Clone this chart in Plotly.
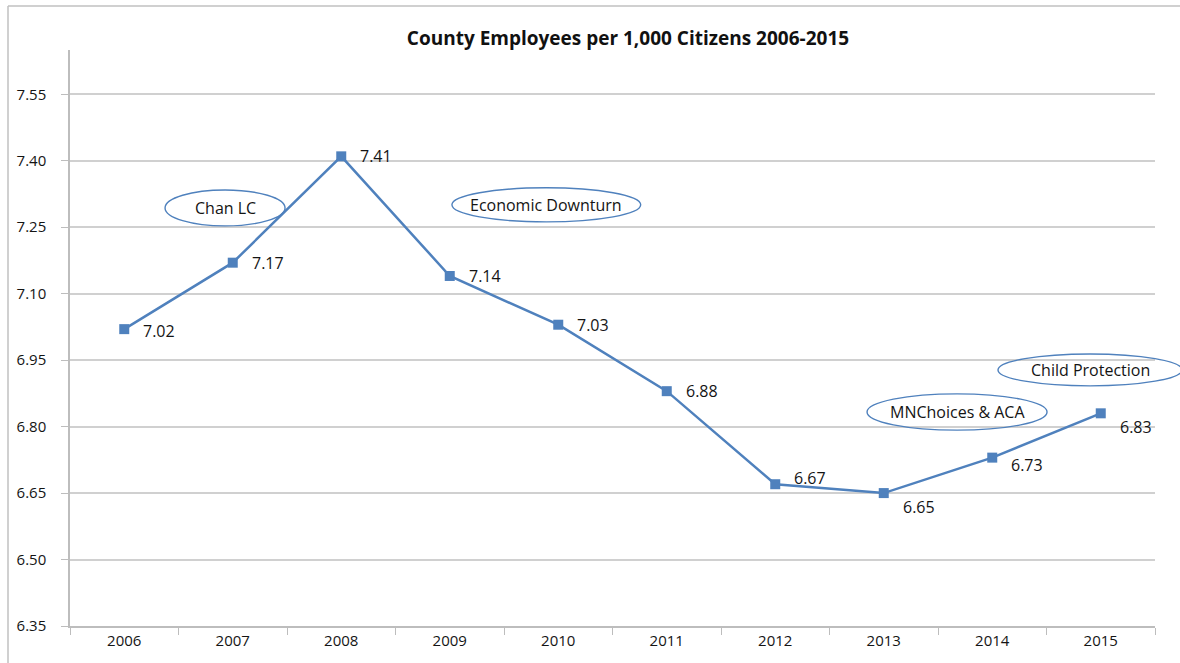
import plotly.graph_objects as go

# Series data
years = ["2006", "2007", "2008", "2009", "2010", "2011", "2012", "2013", "2014", "2015"]
employees_per_1000 = [7.02, 7.17, 7.41, 7.14, 7.03, 6.88, 6.67, 6.65, 6.73, 6.83]
y_ticks = [6.35, 6.50, 6.65, 6.80, 6.95, 7.10, 7.25, 7.40, 7.55]

# Callout bubbles: label, (x0, x1) in category units, (y0, y1) in axis units
callouts = [
    ("Chan LC", (0.376, 1.482), (7.253, 7.334)),
    ("Economic Downturn", (3.02, 4.76), (7.262, 7.339)),
    ("MNChoices & ACA", (6.846, 8.505), (6.792, 6.874)),
    ("Child Protection", (8.053, 9.749), (6.892, 6.964)),
]

# Vertical nudges (px) for the value labels
label_yshift = [-2, 0, 0, 0, 0, 0, 6, -14, -7, -14]

BLUE = "#4F81BD"
FONT = "Open Sans"
TXT = "#141414"
Y_MIN, Y_MAX = 6.35, 7.65
N = len(years)


def to_paper(ix, v):
    return (ix + 0.5) / N, (v - Y_MIN) / (Y_MAX - Y_MIN)


fig = go.Figure()
fig.add_trace(go.Scatter(
    x=years, y=employees_per_1000, mode="lines+markers",
    line=dict(color=BLUE, width=2.5),
    marker=dict(symbol="square", size=10, color=BLUE),
    hoverinfo="x+y", showlegend=False,
))

annotations = []
for i, (val, dy) in enumerate(zip(employees_per_1000, label_yshift)):
    annotations.append(dict(
        x=i, y=val, xref="x", yref="y", text=f"{val:.2f}", showarrow=False,
        xanchor="left", yanchor="middle", xshift=17, yshift=dy,
        font=dict(family=FONT, size=16, color=TXT),
    ))

shapes = []
for text, (x0, x1), (y0, y1) in callouts:
    px0, py0 = to_paper(x0, y0)
    px1, py1 = to_paper(x1, y1)
    shapes.append(dict(
        type="circle", xref="paper", yref="paper",
        x0=px0, x1=px1, y0=py0, y1=py1,
        line=dict(color=BLUE, width=1.4), fillcolor="rgba(255,255,255,0)",
    ))
    annotations.append(dict(
        x=(px0 + px1) / 2, y=(py0 + py1) / 2, xref="paper", yref="paper",
        text=text, showarrow=False, xanchor="center", yanchor="middle",
        font=dict(family=FONT, size=16, color=TXT),
    ))

# Outer chart frame (left and top edges)
W, H, ML, MR, MT, MB = 1180, 663, 70, 25, 50, 37
pw, ph = W - ML - MR, H - MT - MB
fx0 = (8 - ML) / pw
fy1 = (H - MB - 6) / ph
fy0 = (H - MB - H) / ph
shapes.append(dict(type="line", xref="paper", yref="paper", x0=fx0, x1=fx0,
                   y0=fy0, y1=fy1, line=dict(color="#c0c0c0", width=1.5)))
shapes.append(dict(type="line", xref="paper", yref="paper", x0=fx0, x1=(W - ML) / pw + 0.05,
                   y0=fy1, y1=fy1, line=dict(color="#c0c0c0", width=1.5)))

fig.update_layout(
    width=W, height=H,
    margin=dict(l=ML, r=MR, t=MT, b=MB),
    paper_bgcolor="white", plot_bgcolor="white",
    title=dict(text="<b>County Employees per 1,000 Citizens 2006-2015</b>",
               x=628 / W, xref="container", xanchor="center",
               y=1 - 38 / H, yref="container", yanchor="middle",
               font=dict(family=FONT, size=19, color="#111111")),
    xaxis=dict(
        type="category", range=[-0.5, N - 0.5], tickson="boundaries",
        ticks="outside", ticklen=7, tickcolor="#bdbdbd",
        showline=True, linecolor="#bdbdbd", linewidth=1.5,
        showgrid=False, zeroline=False,
        tickfont=dict(family=FONT, size=15, color=TXT),
    ),
    yaxis=dict(
        range=[Y_MIN, Y_MAX], tickvals=y_ticks,
        ticktext=[f"{v:.2f}" for v in y_ticks],
        ticks="outside", ticklen=7, tickcolor="#bdbdbd",
        showline=True, linecolor="#bdbdbd", linewidth=1.5,
        showgrid=True, gridcolor="#d0d0d0", gridwidth=1.5,
        zeroline=False, ticklabelstandoff=12,
        tickfont=dict(family=FONT, size=15, color=TXT),
    ),
    annotations=annotations, shapes=shapes,
)

fig.write_html("out.html")
